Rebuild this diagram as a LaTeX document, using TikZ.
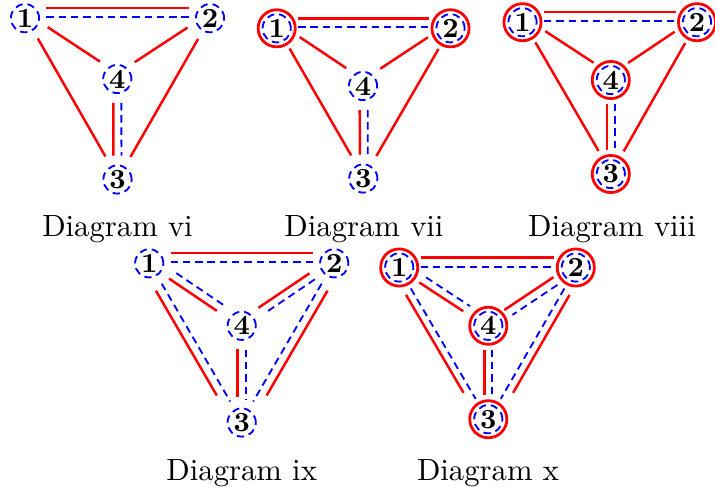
\documentclass[tikz,border=0pt]{standalone}
\usetikzlibrary{calc}
\tikzset{
  vtx/.style={circle, draw=blue, line width=0.6pt, dash pattern=on 2.4pt off 1.6pt,
              minimum size=9.2pt, inner sep=0pt, font=\small\bfseries},
  ring/.style={circle, draw=red, line width=0.9pt, minimum size=12.1pt, inner sep=0pt},
  redl/.style={draw=red, line width=0.8pt},
  bluel/.style={draw=blue, line width=0.6pt, dash pattern=on 2.4pt off 1.6pt},
  diagcap/.style={anchor=base, inner sep=0pt}
}
% #1 style, #2 #3 end nodes, #4 sideways offset (left of #2->#3), #5 #6 gaps at the ends
\newcommand{\lnk}[6]{%
  \draw[#1, shorten <=#5, shorten >=#6] ($(#2)!#4!90:(#3)$) -- ($(#3)!#4!-90:(#2)$);}
\begin{document}
\begin{tikzpicture}[x=0.326pt, y=-0.326pt]
\useasboundingbox (0,0) rectangle (715,491);

% ---------- Diagram vi ----------
\node[vtx] (A1) at (25,18.2) {1};
\node[vtx] (A2) at (210,18.2) {2};
\node[vtx] (A4) at (117.3,79) {4};
\node[vtx] (A3) at (117.5,179.5) {3};
\lnk{redl}{A1}{A2}{3.26pt}{7pt}{7pt}
\lnk{bluel}{A1}{A2}{0.4pt}{7pt}{7pt}
\lnk{redl}{A1}{A4}{1.63pt}{7.8pt}{7.8pt}
\lnk{redl}{A2}{A4}{-1.47pt}{7.8pt}{7.8pt}
\lnk{redl}{A4}{A3}{-1.3pt}{7.8pt}{7.8pt}
\lnk{bluel}{A4}{A3}{1.3pt}{7.8pt}{7.8pt}
\lnk{redl}{A1}{A3}{0.33pt}{7.8pt}{8.5pt}
\lnk{redl}{A2}{A3}{0pt}{7.8pt}{8.5pt}
\node[diagcap] (capA) at (117.5,236.7) {Diagram vi};

% ---------- Diagram vii ----------
\node[ring] (B1r) at (276.7,28.3) {};
\node[ring] (B2r) at (450.5,28.3) {};
\node[vtx] (B1) at (276.7,28.3) {1};
\node[vtx] (B2) at (450.5,28.3) {2};
\node[vtx] (B4) at (363,86) {4};
\node[vtx] (B3) at (363.3,178.5) {3};
\lnk{redl}{B1}{B2}{3.26pt}{7pt}{7pt}
\lnk{bluel}{B1}{B2}{0.33pt}{7pt}{7pt}
\lnk{redl}{B1}{B4}{1.8pt}{7.8pt}{7.8pt}
\lnk{redl}{B2}{B4}{-1.6pt}{7.8pt}{7.8pt}
\lnk{redl}{B4}{B3}{-1.1pt}{7.8pt}{7.8pt}
\lnk{bluel}{B4}{B3}{1.5pt}{7.8pt}{7.8pt}
\lnk{redl}{B1}{B3}{0.33pt}{7.8pt}{8.5pt}
\lnk{redl}{B2}{B3}{0pt}{7.8pt}{8.5pt}
\node[diagcap] (capB) at (364,236.7) {Diagram vii};

% ---------- Diagram viii ----------
\node[ring] (C1r) at (522.5,22.2) {};
\node[ring] (C2r) at (697,22.2) {};
\node[ring] (C4r) at (610.8,80) {};
\node[ring] (C3r) at (610.8,174) {};
\node[vtx] (C1) at (522.5,22.2) {1};
\node[vtx] (C2) at (697,22.2) {2};
\node[vtx] (C4) at (610.8,80) {4};
\node[vtx] (C3) at (610.8,174) {3};
\lnk{redl}{C1}{C2}{3.26pt}{7pt}{7pt}
\lnk{bluel}{C1}{C2}{0.4pt}{7pt}{7pt}
\lnk{redl}{C1}{C4}{1.63pt}{7.8pt}{7.8pt}
\lnk{redl}{C2}{C4}{-1.47pt}{7.8pt}{7.8pt}
\lnk{redl}{C4}{C3}{-1.3pt}{7.8pt}{7.8pt}
\lnk{bluel}{C4}{C3}{1.3pt}{7.8pt}{7.8pt}
\lnk{redl}{C1}{C3}{0.33pt}{7.8pt}{8.5pt}
\lnk{redl}{C2}{C3}{0pt}{7.8pt}{8.5pt}
\node[diagcap] (capC) at (612,236.7) {Diagram viii};

% ---------- Diagram ix ----------
\node[vtx] (D1) at (149.2,263.3) {1};
\node[vtx] (D2) at (334.2,263.3) {2};
\node[vtx] (D4) at (241.7,325.8) {4};
\node[vtx] (D3) at (241.7,422.5) {3};
\lnk{redl}{D1}{D2}{3.4pt}{7pt}{7pt}
\lnk{bluel}{D1}{D2}{0.4pt}{7pt}{6.5pt}
\lnk{redl}{D1}{D4}{-0.5pt}{8.15pt}{9.45pt}
\lnk{bluel}{D1}{D4}{2.3pt}{9.1pt}{8.5pt}
\lnk{redl}{D2}{D4}{-1.8pt}{8.5pt}{7.8pt}
\lnk{bluel}{D2}{D4}{0.8pt}{8.15pt}{9.1pt}
\lnk{redl}{D4}{D3}{-1.4pt}{7.5pt}{8.2pt}
\lnk{bluel}{D4}{D3}{1.4pt}{7.8pt}{7.4pt}
\lnk{redl}{D1}{D3}{-2.6pt}{8.8pt}{11.7pt}
\lnk{bluel}{D1}{D3}{0.2pt}{7.8pt}{7.8pt}
\lnk{redl}{D2}{D3}{2.6pt}{8.8pt}{11.7pt}
\lnk{bluel}{D2}{D3}{-0.2pt}{7.8pt}{7.8pt}
\node[diagcap] (capD) at (241.7,480) {Diagram ix};

% ---------- Diagram x ----------
\node[ring] (E1r) at (399.2,267.5) {};
\node[ring] (E2r) at (575.8,267.5) {};
\node[ring] (E4r) at (488.3,325.8) {};
\node[ring] (E3r) at (488.3,419.2) {};
\node[vtx] (E1) at (399.2,267.5) {1};
\node[vtx] (E2) at (575.8,267.5) {2};
\node[vtx] (E4) at (488.3,325.8) {4};
\node[vtx] (E3) at (488.3,419.2) {3};
\lnk{redl}{E1}{E2}{3.2pt}{7pt}{7pt}
\lnk{bluel}{E1}{E2}{0.2pt}{7pt}{7pt}
\lnk{redl}{E1}{E4}{-0.5pt}{8.15pt}{9.45pt}
\lnk{bluel}{E1}{E4}{2.1pt}{9.1pt}{8.5pt}
\lnk{redl}{E2}{E4}{-1.4pt}{7.8pt}{7.2pt}
\lnk{bluel}{E2}{E4}{1.4pt}{8.15pt}{8.5pt}
\lnk{redl}{E4}{E3}{-1.3pt}{7.8pt}{7.8pt}
\lnk{bluel}{E4}{E3}{1.2pt}{7.8pt}{7.8pt}
\lnk{redl}{E1}{E3}{-2.6pt}{8.8pt}{11.5pt}
\lnk{bluel}{E1}{E3}{-0.2pt}{7.8pt}{7.8pt}
\lnk{redl}{E2}{E3}{2.7pt}{8.8pt}{11.5pt}
\lnk{bluel}{E2}{E3}{0.2pt}{7.8pt}{7.8pt}
\node[diagcap] (capE) at (488,480) {Diagram x};
\end{tikzpicture}
\end{document}
